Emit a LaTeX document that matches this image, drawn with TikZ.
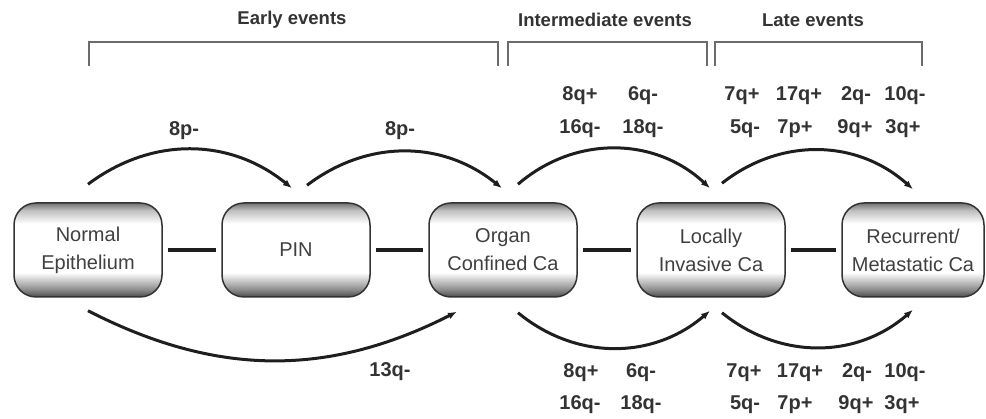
\documentclass[tikz,border=0pt]{standalone}
\usepackage{fontspec}
\setmainfont{Liberation Sans}
\usetikzlibrary{arrows.meta,positioning,calc}
\definecolor{pcdark}{HTML}{1E1E1E}
\definecolor{pcgray}{HTML}{6B6B6B}
\definecolor{pctext}{HTML}{333333}
\pgfdeclareverticalshading{bevel}{100bp}{color(0bp)=(black!70); color(25bp)=(black!70); color(29bp)=(black!45); color(38bp)=(white); color(64bp)=(white); color(71bp)=(black!25); color(75bp)=(black!55); color(100bp)=(black!55)}
\tikzset{
  stage/.style={draw=black!80, line width=1.5pt, rounded corners=22pt, shade, shading=bevel,
    minimum width=148pt, minimum height=94pt, align=center,
    font=\fontsize{20}{28}\selectfont, text=black!75, inner sep=2pt},
  link/.style={pcdark, line width=3.2pt, shorten <=5pt, shorten >=5pt},
  arc/.style={-{Latex[length=9pt,width=7pt]}, pcdark, line width=3pt},
  lbl/.style={font=\fontsize{20}{24}\selectfont\bfseries, text=pctext, inner sep=1pt},
  hdr/.style={font=\fontsize{18.5}{22}\selectfont\bfseries, text=pctext},
  brk/.style={pcgray, line width=2.2pt},
}

\begin{document}
\begin{tikzpicture}[x=1pt, y=-1pt]
  \useasboundingbox (0,0) rectangle (986,419);
  % phases
  \node[hdr] (early) at (292,20) {Early events};
  \node[hdr] (inter) at (605,20) {Intermediate events};
  \node[hdr] (late) at (813,20) {Late events};
  \draw[brk] (89,66) -- (89,42) -- (498,42) -- (498,66);
  \draw[brk] (508,66) -- (508,42) -- (707,42) -- (707,66);
  \draw[brk] (715,66) -- (715,42) -- (922,42) -- (922,66);

  % stages
  \node[stage] (normal) at (88,250) {Normal\\Epithelium};
  \node[stage] (pin) at (296,250) {PIN};
  \node[stage] (organ) at (503,250) {Organ\\Confined Ca};
  \node[stage] (local) at (711,250) {Locally\\Invasive Ca};
  \node[stage, minimum width=142pt] (recur) at (913,250) {Recurrent/\\Metastatic Ca};
  \draw[link] (normal) -- (pin);
  \draw[link] (pin) -- (organ);
  \draw[link] (organ) -- (local);
  \draw[link] (local) -- (recur);

  % upper arcs
  \draw[arc] ([yshift=18pt]normal.north) to[bend left=38] ([xshift=-4pt,yshift=14pt]pin.north);
  \draw[arc] ([xshift=11pt,yshift=17pt]pin.north) to[bend left=38] ([xshift=-1pt,yshift=14pt]organ.north);
  \draw[arc] ([xshift=15pt,yshift=18pt]organ.north) to[bend left=42] ([xshift=-1pt,yshift=14pt]local.north);
  \draw[arc] ([xshift=11pt,yshift=19pt]local.north) to[bend left=40] ([yshift=13pt]recur.north);

  % lower arcs
  \draw[arc] ([yshift=-13pt]normal.south) to[bend right=27] ([xshift=-46pt,yshift=-14pt]organ.south);
  \draw[arc] ([xshift=15pt,yshift=-15pt]organ.south) to[bend right=40] ([xshift=-1pt,yshift=-13pt]local.south);
  \draw[arc] ([xshift=11pt,yshift=-15pt]local.south) to[bend right=40] ([yshift=-12pt]recur.south);

  % alterations
  \node[lbl] (lossa) at (184,131) {8p-};
  \node[lbl] (lossb) at (400,131) {8p-};
  \node[lbl] (loss13) at (390,372) {13q-};
  \foreach \txt/\px/\py [count=\i] in {8q+/580/96, 6q-/643/96, 16q-/580/129, 18q-/643/129}
    \node[lbl] (ti\i) at (\px,\py) {\txt};
  \foreach \txt/\px/\py [count=\i] in {7q+/742/96, 17q+/799/96, 2q-/856/96, 10q-/905/96,
      5q-/745/129, 7p+/795/129, 9q+/855/129, 3q+/903/129}
    \node[lbl] (tl\i) at (\px,\py) {\txt};
  \foreach \txt/\px/\py [count=\i] in {8q+/581/373, 6q-/641/373, 16q-/580/405, 18q-/641/405}
    \node[lbl] (bi\i) at (\px,\py) {\txt};
  \foreach \txt/\px/\py [count=\i] in {7q+/744/373, 17q+/800/373, 2q-/857/373, 10q-/905/373,
      5q-/745/405, 7p+/795/405, 9q+/856/405, 3q+/902/405}
    \node[lbl] (bl\i) at (\px,\py) {\txt};
\end{tikzpicture}
\end{document}
